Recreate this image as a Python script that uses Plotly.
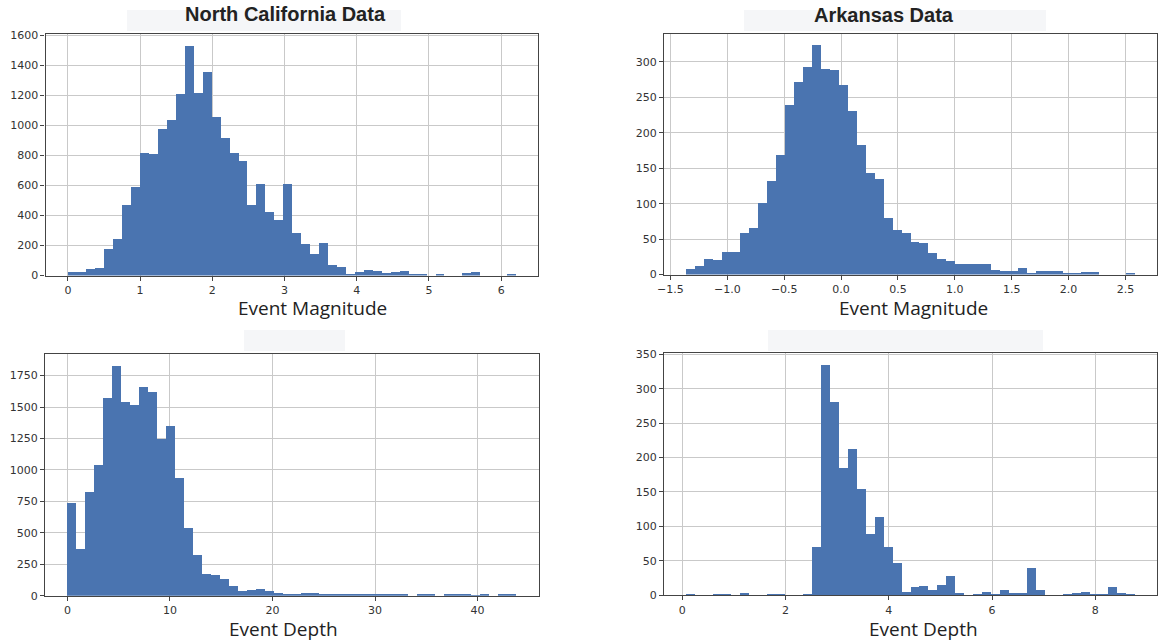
import plotly.graph_objects as go
import numpy as np

# ---------------- data (histogram counts, 50 bins each) ----------------
nc_mag_counts = [25, 27, 45, 52, 180, 245, 470, 590, 820, 812,
                 978, 1042, 1215, 1535, 1220, 1360, 1062, 918, 818, 768,
                 472, 610, 425, 375, 615, 287, 215, 148, 220, 76,
                 62, 16, 30, 38, 32, 18, 24, 36, 16, 9,
                 0, 14, 0, 0, 22, 30, 0, 0, 0, 8]
nc_mag_range = (0.0, 6.2)

ar_mag_counts = [8, 13, 23, 21, 33, 33, 60, 66, 102, 132,
                 169, 240, 272, 293, 324, 291, 289, 268, 232, 183,
                 144, 135, 80, 63, 60, 46, 45, 31, 22, 20,
                 16, 16, 16, 15, 7, 5, 6, 10, 3, 5,
                 5, 5, 2, 3, 4, 4, 0, 0, 0, 2]
ar_mag_range = (-1.36, 2.58)

nc_depth_counts = [739, 371, 826, 1038, 1573, 1830, 1541, 1520, 1660, 1618,
                   1245, 1353, 932, 540, 320, 172, 164, 135, 79, 37,
                   45, 56, 37, 18, 16, 8, 18, 18, 8, 7,
                   6, 8, 7, 6, 7, 8, 6, 7, 0, 7,
                   7, 0, 6, 7, 6, 5, 6, 0, 6, 6]
nc_depth_range = (0.0, 43.75)

ar_depth_counts = [2, 0, 0, 1, 1, 0, 3, 0, 0, 1,
                   1, 0, 0, 1, 70, 335, 281, 185, 212, 154,
                   89, 113, 70, 47, 5, 12, 13, 8, 15, 28,
                   3, 0, 2, 5, 2, 8, 3, 3, 39, 8,
                   0, 0, 2, 3, 5, 2, 2, 12, 4, 2]
ar_depth_range = (0.08, 8.76)

titles = ["North California Data", "Arkansas Data", "", ""]
xlabels = ["Event Magnitude", "Event Magnitude", "Event Depth", "Event Depth"]

nc_mag_xticks = [0, 1, 2, 3, 4, 5, 6]
ar_mag_xticks = [-1.5, -1.0, -0.5, 0.0, 0.5, 1.0, 1.5, 2.0, 2.5]
ar_mag_xticklabels = ["\u22121.5", "\u22121.0", "\u22120.5", "0.0", "0.5", "1.0", "1.5", "2.0", "2.5"]
nc_depth_xticks = [0, 10, 20, 30, 40]
ar_depth_xticks = [0, 2, 4, 6, 8]

nc_mag_yticks = [0, 200, 400, 600, 800, 1000, 1200, 1400, 1600]
ar_mag_yticks = [0, 50, 100, 150, 200, 250, 300]
nc_depth_yticks = [0, 250, 500, 750, 1000, 1250, 1500, 1750]
ar_depth_yticks = [0, 50, 100, 150, 200, 250, 300, 350]

# ---------------- layout geometry ----------------
W, H = 1160, 642
BAR = "#4a74b0"


def dx(a, b):
    return [a / W, b / W]


def dy(top, bottom):
    return [1 - bottom / H, 1 - top / H]


panels = [
    dict(counts=nc_mag_counts, rng=nc_mag_range, xt=nc_mag_xticks, xtl=[str(v) for v in nc_mag_xticks],
         yt=nc_mag_yticks, xd=dx(45.5, 538), yd=dy(33.5, 275.5)),
    dict(counts=ar_mag_counts, rng=ar_mag_range, xt=ar_mag_xticks, xtl=ar_mag_xticklabels,
         yt=ar_mag_yticks, xd=dx(664, 1157), yd=dy(33.5, 274.5)),
    dict(counts=nc_depth_counts, rng=nc_depth_range, xt=nc_depth_xticks, xtl=[str(v) for v in nc_depth_xticks],
         yt=nc_depth_yticks, xd=dx(45, 538.5), yd=dy(354, 595.7)),
    dict(counts=ar_depth_counts, rng=ar_depth_range, xt=ar_depth_xticks, xtl=[str(v) for v in ar_depth_xticks],
         yt=ar_depth_yticks, xd=dx(664, 1157), yd=dy(353, 595.3)),
]

fig = go.Figure()
layout = dict(
    width=W, height=H, margin=dict(l=0, r=0, t=0, b=0, autoexpand=False),
    paper_bgcolor="white", plot_bgcolor="white", showlegend=False,
    bargap=0, shapes=[], annotations=[],
)

tickfont = dict(family="DejaVu Sans", size=11, color="#333333")

for i, p in enumerate(panels):
    n = len(p["counts"])
    lo, hi = p["rng"]
    edges = np.linspace(lo, hi, n + 1)
    centers = (edges[:-1] + edges[1:]) / 2
    width = edges[1] - edges[0]
    sfx = "" if i == 0 else str(i + 1)
    fig.add_trace(go.Bar(x=centers, y=p["counts"], width=width,
                         marker=dict(color=BAR, line=dict(width=0)),
                         xaxis="x" + sfx, yaxis="y" + sfx))
    span = hi - lo
    xr = [lo - 0.05 * span, hi + 0.05 * span]
    yr = [0, 1.05 * max(p["counts"])]
    common = dict(showline=True, linecolor="#444444", linewidth=1.3, mirror=True,
                  showgrid=True, gridcolor="#c9c9c9", gridwidth=1.2,
                  ticks="outside", ticklen=4, tickcolor="#444444", tickwidth=1,
                  tickfont=tickfont, zeroline=False, fixedrange=True, automargin=False)
    layout["xaxis" + sfx] = dict(domain=p["xd"], range=xr, anchor="y" + sfx,
                                 tickvals=p["xt"], ticktext=p["xtl"], **common)
    layout["yaxis" + sfx] = dict(domain=p["yd"], range=yr, anchor="x" + sfx,
                                 tickvals=p["yt"], ticktext=[str(v) for v in p["yt"]], **common)

# title backgrounds (light boxes)
boxes = [(127, 10, 401, 31), (744, 10, 1046, 31), (244, 330, 345, 351), (768, 330, 1043, 351)]
for (x0, y0, x1, y1) in boxes:
    layout["shapes"].append(dict(type="rect", xref="paper", yref="paper",
                                 x0=x0 / W, x1=x1 / W, y0=1 - y1 / H, y1=1 - y0 / H,
                                 fillcolor="#f5f6f8", line=dict(width=0), layer="below"))

title_pos = [(285, 14), (884, 15), (294, 340), (905, 340)]
for t, (cx, cy) in zip(titles, title_pos):
    if t:
        layout["annotations"].append(dict(text="<b>" + t + "</b>", xref="paper", yref="paper",
                                          x=cx / W, y=1 - cy / H, xanchor="center", yanchor="middle",
                                          showarrow=False,
                                          font=dict(family="Liberation Sans, Arial", size=20, color="#222222")))

label_pos = [(312, 308), (913, 308), (283, 629), (923, 629)]
for t, (cx, cy) in zip(xlabels, label_pos):
    layout["annotations"].append(dict(text=t, xref="paper", yref="paper",
                                      x=cx / W, y=1 - cy / H, xanchor="center", yanchor="middle",
                                      showarrow=False,
                                      font=dict(family="Open Sans", size=19, color="#222222")))

fig.update_layout(**layout)
fig.write_html("out.html")
